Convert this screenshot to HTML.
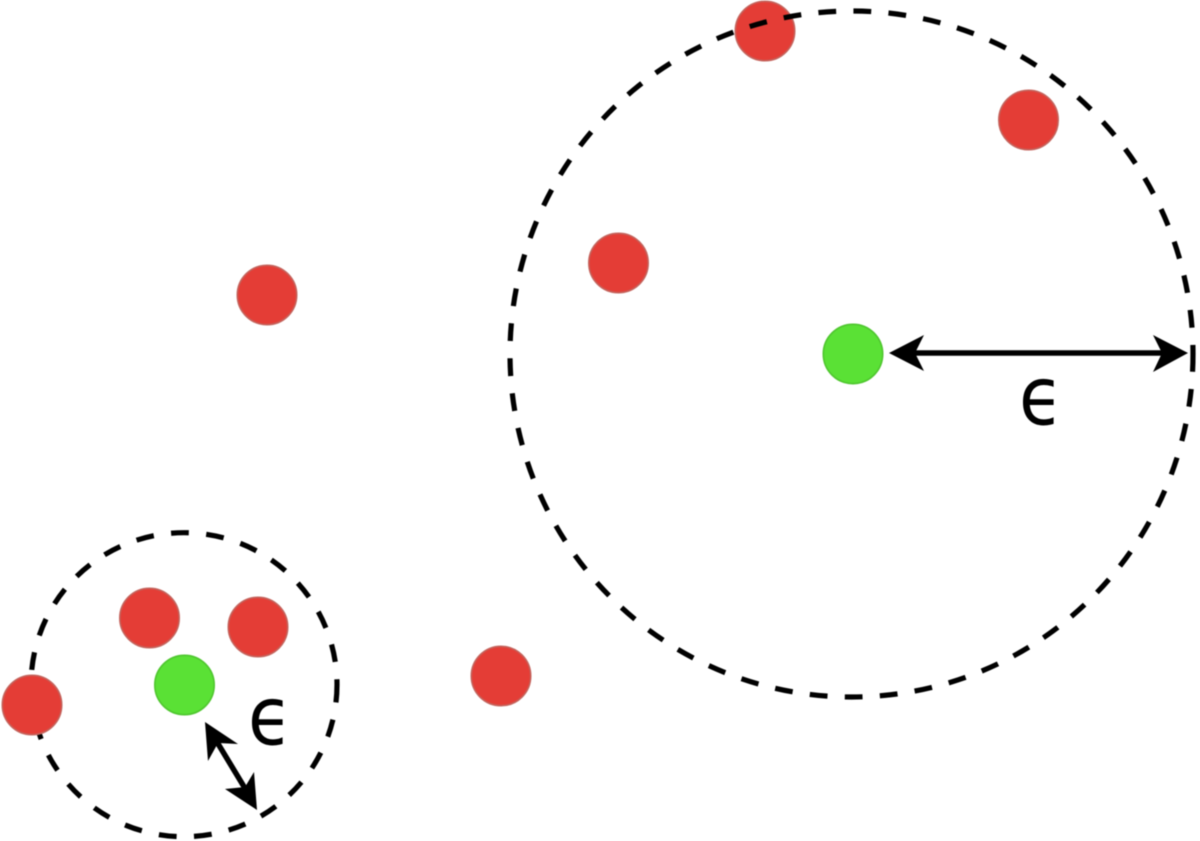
<!DOCTYPE html>
<html><head><meta charset="utf-8"><style>
html,body{margin:0;padding:0;background:#fff;width:1200px;height:841px;overflow:hidden}
svg{display:block}
text{font-family:"DejaVu Sans",sans-serif;font-size:72px;fill:#000}
</style></head><body>
<svg width="1200" height="841" viewBox="0 0 1200 841" xmlns="http://www.w3.org/2000/svg">
<g style="filter:blur(.5px)">
<ellipse cx="184" cy="684.700" rx="153" ry="152" fill="none" stroke="#000" stroke-width="5.200" stroke-dasharray="17.800 17.470"/>
<g fill="#e43d36" stroke="#c4635c" stroke-width="1.600">
<circle cx="765" cy="31" r="29.700"/>
<circle cx="1028.500" cy="120" r="29.700"/>
<circle cx="618.500" cy="263" r="29.700"/>
<circle cx="267" cy="295" r="29.700"/>
<circle cx="149.500" cy="618" r="29.700"/>
<circle cx="258" cy="627" r="29.700"/>
<circle cx="501" cy="676" r="29.700"/>
<circle cx="32" cy="705" r="29.700"/>
</g>
<ellipse cx="851.500" cy="354" rx="341.500" ry="343" fill="none" stroke="#000" stroke-width="5.200" stroke-dasharray="17.800 17.300"/>
<g fill="#5ae135" stroke="#4fc62f" stroke-width="1.600">
<circle cx="853" cy="354" r="29.700"/>
<circle cx="184.500" cy="685" r="29.700"/>
</g>
<g stroke="#000" stroke-width="5.500" fill="none">
<line x1="910" y1="353" x2="1168" y2="353"/>
<line x1="217" y1="742" x2="246" y2="790"/>
</g>
<g fill="#000">
<polygon points="889,353 924,335 915,353 924,371"/>
<polygon points="1188,353 1153,335 1162,353 1153,372"/>
<polygon points="205,722 238,744 218,743 208,761"/>
<polygon points="257,810 225,789 245,787 254,772"/>
</g>
<text transform="translate(1019 424.500) scale(1 1.130)">ϵ</text>
<text transform="translate(248 744.500) scale(1 1.130)">ϵ</text>
</g>
</svg>
</body></html>
